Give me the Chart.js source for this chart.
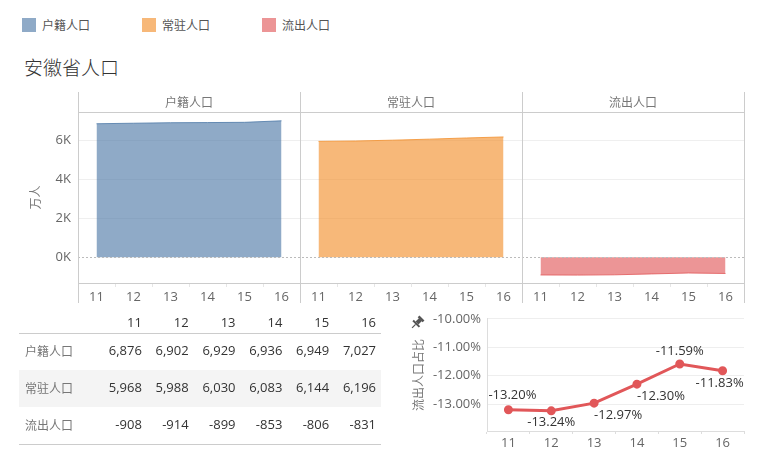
<!DOCTYPE html>
<html>
<head>
<meta charset="utf-8">
<script src="https://cdn.jsdelivr.net/npm/chart.js@4.4.0/dist/chart.umd.min.js"></script>
<style>
    body { margin: 0; background: #fff; width: 769px; height: 456px; position: relative; overflow: hidden; font-family: 'Noto Sans CJK SC', sans-serif; }
    canvas { position: absolute; }
    .item { position: absolute; top: 17px; font-size: 12px; color: #555; display: flex; align-items: center; line-height: 16px; }
    .sw { width: 14px; height: 14px; margin-right: 6px; }
    #title { position: absolute; left: 24px; top: 57px; font-size: 19px; line-height: 20px; color: #333; font-weight: 300; }
</style>
</head>
<body>
<div id="legend"></div>
<div id="title">安徽省人口</div>
<canvas id="areaChart" width="769" height="222" style="left:0;top:88px"></canvas>
<canvas id="tableChart" width="400" height="151" style="left:0;top:305px"></canvas>
<canvas id="ratioChart" width="369" height="151" style="left:400px;top:305px"></canvas>

<script>
// 数据
const years = ['11', '12', '13', '14', '15', '16'];
const panelNames = ['户籍人口', '常驻人口', '流出人口'];
const hujiPop = [6876, 6902, 6929, 6936, 6949, 7027];
const residentPop = [5968, 5988, 6030, 6083, 6144, 6196];
const outflowPop = [-908, -914, -899, -853, -806, -831];
const outflowRatio = [-13.20, -13.24, -12.97, -12.30, -11.59, -11.83];

// 刻度
const popTicks = [0, 2000, 4000, 6000];
const ratioTicks = [-13, -12, -11, -10];

const seriesValues = [hujiPop, residentPop, outflowPop];
const baseColors = ['78, 121, 167', '242, 142, 43', '225, 87, 89'];

const CJK = "'Noto Sans CJK SC', sans-serif";
const NUM = "'Open Sans', sans-serif";
Chart.defaults.font.family = NUM;
Chart.defaults.color = '#666';

// 图例
const legendEl = document.getElementById('legend');
panelNames.forEach((name, i) => {
    const item = document.createElement('div');
    item.className = 'item';
    item.style.left = (22 + i * 120) + 'px';
    item.innerHTML = `<span class="sw" style="background:rgba(${baseColors[i]},0.63)"></span>${name}`;
    legendEl.appendChild(item);
});

// 面板框线和标题
const panelFrame = {
    id: 'panelFrame',
    afterDraw(chart) {
        const { ctx, chartArea: a, scales: { y } } = chart;
        const w = (a.right - a.left) / panelNames.length;
        ctx.save();
        // 零线
        const y0 = Math.round(y.getPixelForValue(0)) + 0.5;
        ctx.strokeStyle = '#bbb';
        ctx.lineWidth = 1;
        ctx.setLineDash([2, 2]);
        ctx.beginPath();
        ctx.moveTo(a.left, y0);
        ctx.lineTo(a.right, y0);
        ctx.stroke();
        ctx.setLineDash([]);
        // 框线
        ctx.strokeStyle = '#ccc';
        ctx.beginPath();
        for (let i = 0; i <= panelNames.length; i++) {
            const x = Math.round(a.left + i * w) + 0.5;
            ctx.moveTo(x, a.top - 20);
            ctx.lineTo(x, a.bottom + 20);
        }
        ctx.moveTo(a.left, Math.round(a.top) + 0.5);
        ctx.lineTo(a.right, Math.round(a.top) + 0.5);
        ctx.stroke();
        // 标题
        ctx.fillStyle = '#777';
        ctx.font = '12px ' + CJK;
        ctx.textAlign = 'center';
        ctx.textBaseline = 'middle';
        panelNames.forEach((name, i) => {
            ctx.fillText(name, a.left + (i + 0.5) * w, a.top - 10);
        });
        ctx.restore();
    }
};

function padPanel(panel, values) {
    const out = new Array(years.length * panelNames.length).fill(null);
    values.forEach((v, i) => { out[panel * years.length + i] = v; });
    return out;
}

new Chart(document.getElementById('areaChart'), {
    type: 'line',
    data: {
        labels: [].concat(years, years, years),
        datasets: seriesValues.map((values, i) => ({
            label: panelNames[i],
            data: padPanel(i, values),
            fill: 'origin',
            backgroundColor: `rgba(${baseColors[i]}, 0.63)`,
            borderColor: `rgba(${baseColors[i]}, 0.8)`,
            borderWidth: 1,
            pointRadius: 0,
            tension: 0,
            spanGaps: false
        }))
    },
    options: {
        responsive: false,
        animation: false,
        layout: { padding: { top: 24, right: 25, left: 0, bottom: 0 } },
        plugins: { legend: { display: false }, tooltip: { enabled: false } },
        scales: {
            x: {
                offset: true,
                grid: { offset: true, drawOnChartArea: false, tickLength: 4, color: '#e6e6e6' },
                border: { display: true, color: '#ccc' },
                ticks: { autoSkip: false, maxRotation: 0, padding: 2, color: '#666', font: { size: 13 } },
                afterFit(scale) { scale.height = 27; }
            },
            y: {
                min: -1320,
                max: 7480,
                ticks: {
                    padding: 7,
                    color: '#666',
                    font: { size: 13 },
                    callback: v => (v / 1000) + 'K'
                },
                afterBuildTicks(scale) {
                    scale.ticks = popTicks.map(v => ({ value: v }));
                },
                grid: {
                    drawTicks: false,
                    color: ctx => (ctx.tick && ctx.tick.value === 0) ? 'rgba(0,0,0,0)' : '#efefef'
                },
                border: { display: false },
                title: {
                    display: true,
                    text: '万人',
                    color: '#777',
                    font: { family: CJK, size: 12 },
                    padding: { top: 28, bottom: 0 }
                },
                afterFit(scale) { scale.width = 78; }
            }
        }
    },
    plugins: [panelFrame]
});

// 文本表格
const textTable = {
    id: 'textTable',
    beforeDatasetsDraw(chart) {
        const { ctx, chartArea: a, scales: { y } } = chart;
        const rowH = (a.bottom - a.top) / panelNames.length;
        ctx.save();
        ctx.fillStyle = '#f4f4f4';
        ctx.fillRect(19, y.getPixelForValue(1) - rowH / 2, a.right - 19, rowH);
        ctx.strokeStyle = '#ccc';
        ctx.lineWidth = 1;
        ctx.beginPath();
        [a.top, a.bottom].forEach(yy => {
            ctx.moveTo(19, Math.round(yy) + 0.5);
            ctx.lineTo(a.right, Math.round(yy) + 0.5);
        });
        ctx.stroke();
        ctx.restore();
    },
    afterDatasetsDraw(chart) {
        const { ctx, chartArea: a, scales: { x, y } } = chart;
        const colW = (a.right - a.left) / years.length;
        ctx.save();
        ctx.textBaseline = 'middle';
        // 表头
        ctx.textAlign = 'right';
        ctx.fillStyle = '#333';
        ctx.font = '13px ' + NUM;
        years.forEach((yr, i) => {
            ctx.fillText(yr, x.getPixelForValue(i) + colW / 2 - 5, a.top - 10);
        });
        // 行标题
        ctx.textAlign = 'left';
        ctx.fillStyle = '#777';
        ctx.font = '12px ' + CJK;
        panelNames.forEach((name, i) => {
            ctx.fillText(name, 25, y.getPixelForValue(i));
        });
        // 数值
        ctx.textAlign = 'right';
        ctx.fillStyle = '#333';
        ctx.font = '13px ' + NUM;
        chart.data.datasets.forEach((ds, di) => {
            chart.getDatasetMeta(di).data.forEach((pt, i) => {
                ctx.fillText(ds.data[i].v.toLocaleString('en-US'), pt.x + colW / 2 - 5, pt.y);
            });
        });
        ctx.restore();
    }
};

new Chart(document.getElementById('tableChart'), {
    type: 'line',
    data: {
        labels: years,
        datasets: seriesValues.map((values, r) => ({
            label: panelNames[r],
            data: values.map((v, i) => ({ x: years[i], y: panelNames[r], v: v })),
            showLine: false,
            pointRadius: 0
        }))
    },
    options: {
        responsive: false,
        animation: false,
        layout: { padding: { left: 100, right: 19, top: 28, bottom: 12 } },
        plugins: { legend: { display: false }, tooltip: { enabled: false } },
        scales: {
            x: { type: 'category', labels: years, offset: true, display: false },
            y: { type: 'category', labels: panelNames, offset: true, display: false }
        }
    },
    plugins: [textTable]
});

// 流出人口占比
const labelOffsets = [[4, -14], [0, 11], [24, 12], [24, 12], [0, -13], [-3, 13]];
const ratioLabels = {
    id: 'ratioLabels',
    afterDatasetsDraw(chart) {
        const { ctx } = chart;
        ctx.save();
        ctx.fillStyle = '#333';
        ctx.font = '13px ' + NUM;
        ctx.textAlign = 'center';
        ctx.textBaseline = 'middle';
        chart.getDatasetMeta(0).data.forEach((pt, i) => {
            const o = labelOffsets[i];
            ctx.fillText(outflowRatio[i].toFixed(2) + '%', pt.x + o[0], pt.y + o[1]);
        });
        // 图钉
        ctx.translate(17, 18);
        ctx.rotate(Math.PI / 4);
        ctx.fillStyle = '#555';
        ctx.fillRect(-3.5, -7, 7, 2.5);
        ctx.fillRect(-2, -5, 4, 5);
        ctx.fillRect(-4.5, 0, 9, 2);
        ctx.fillRect(-0.6, 2, 1.2, 5);
        ctx.restore();
    }
};

new Chart(document.getElementById('ratioChart'), {
    type: 'line',
    data: {
        labels: years,
        datasets: [{
            label: '流出人口占比',
            data: outflowRatio,
            borderColor: '#e15759',
            backgroundColor: '#e15759',
            borderWidth: 3,
            pointRadius: 3,
            tension: 0
        }]
    },
    options: {
        responsive: false,
        animation: false,
        layout: { padding: { top: 8, right: 25, left: 0, bottom: 0 } },
        plugins: { legend: { display: false }, tooltip: { enabled: false } },
        scales: {
            x: {
                offset: true,
                grid: { offset: true, drawOnChartArea: false, tickLength: 3, color: '#ddd' },
                border: { display: true, color: '#ddd' },
                ticks: { maxRotation: 0, padding: 1, color: '#666', font: { size: 13 } },
                afterFit(scale) { scale.height = 25; }
            },
            y: {
                min: -13.95,
                max: -10,
                ticks: {
                    padding: 6,
                    color: '#666',
                    font: { size: 13 },
                    callback: v => v.toFixed(2) + '%'
                },
                afterBuildTicks(scale) {
                    scale.ticks = ratioTicks.map(v => ({ value: v }));
                },
                grid: { drawTicks: false, color: '#eee' },
                border: { display: true, color: '#ddd' },
                title: {
                    display: true,
                    text: '流出人口占比',
                    color: '#777',
                    font: { family: CJK, size: 12 },
                    padding: { top: 11, bottom: 0 }
                },
                afterFit(scale) { scale.width = 87; }
            }
        }
    },
    plugins: [ratioLabels]
});
</script>
</body>
</html>
